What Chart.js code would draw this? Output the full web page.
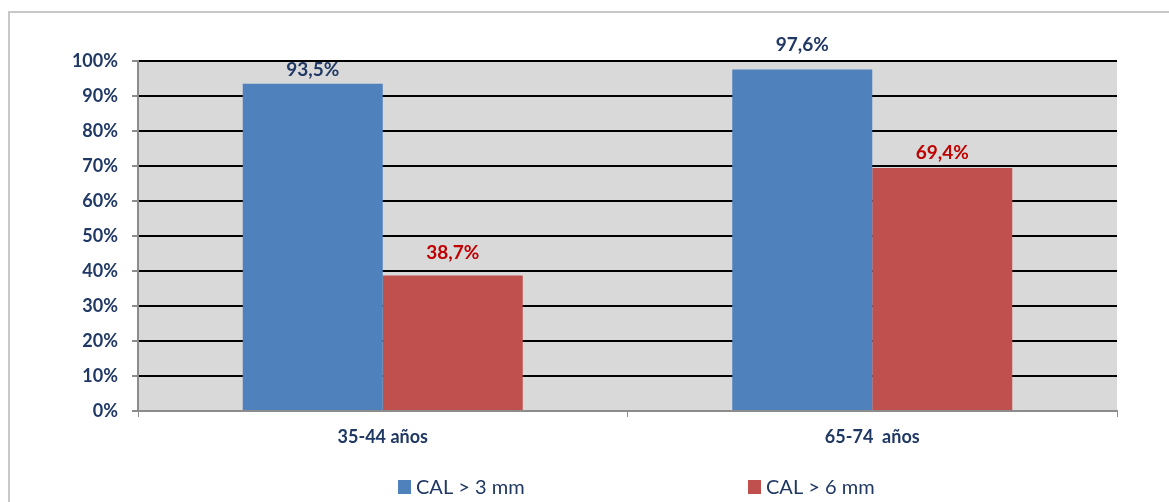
<!DOCTYPE html>
<html>
<head>
<meta charset="utf-8">
<script src="https://cdn.jsdelivr.net/npm/chart.js@4.4.1/dist/chart.umd.min.js"></script>
<style>
  html, body { margin: 0; padding: 0; background: #fff; }
  #wrap { width: 1169px; height: 502px; position: relative; }
</style>
</head>
<body>
<div id="wrap"><canvas id="c" width="1169" height="502"></canvas></div>
<script>
const categories = ['35-44 años', '65-74  años'];
const seriesNames = ['CAL > 3 mm', 'CAL > 6 mm'];
const cal3 = [93.5, 97.6];
const cal6 = [38.7, 69.4];
const valueLabels3 = ['93,5%', '97,6%'];
const valueLabels6 = ['38,7%', '69,4%'];
const yTickLabels = ['0%', '10%', '20%', '30%', '40%', '50%', '60%', '70%', '80%', '90%', '100%'];

const NAVY = '#1F3864';
const LABEL_RED = '#C00000';
const AXIS_GREY = '#8C8C8C';
const FONT = 'Lato, "Open Sans", sans-serif';

const bgPlugin = {
  id: 'bg',
  beforeDraw(chart) {
    const { ctx, chartArea: a } = chart;
    ctx.save();
    ctx.fillStyle = '#D9D9D9';
    ctx.fillRect(a.left, a.top, a.right - a.left, a.bottom - a.top);
    ctx.strokeStyle = '#C8C8C8';
    ctx.lineWidth = 2;
    ctx.strokeRect(9, 12, 1300, 700);
    ctx.restore();
  }
};

const valueLabelPlugin = {
  id: 'valueLabels',
  afterDatasetsDraw(chart, args, opts) {
    const { ctx } = chart;
    ctx.save();
    ctx.font = 'bold 19px ' + FONT;
    ctx.textAlign = 'center';
    ctx.textBaseline = 'middle';
    chart.data.datasets.forEach((ds, di) => {
      const meta = chart.getDatasetMeta(di);
      meta.data.forEach((bar, i) => {
        ctx.fillStyle = opts.colors[di];
        ctx.fillText(opts.texts[di][i], bar.x, bar.y - opts.lift[di][i]);
      });
    });
    ctx.restore();
  }
};

const legendPlugin = {
  id: 'customLegend',
  afterDraw(chart, args, opts) {
    const { ctx } = chart;
    ctx.save();
    ctx.font = '20px ' + FONT;
    ctx.textBaseline = 'middle';
    ctx.textAlign = 'left';
    chart.data.datasets.forEach((ds, di) => {
      const x = opts.x[di];
      ctx.fillStyle = ds.backgroundColor;
      ctx.fillRect(x, opts.y - 7, 13, 14);
      ctx.fillStyle = NAVY;
      ctx.fillText(ds.label, x + 18, opts.y + 1);
    });
    ctx.restore();
  }
};

new Chart(document.getElementById('c'), {
  type: 'bar',
  data: {
    labels: categories,
    datasets: [
      { label: seriesNames[0], data: cal3, backgroundColor: '#4F81BD' },
      { label: seriesNames[1], data: cal6, backgroundColor: '#C0504D' }
    ]
  },
  options: {
    responsive: false,
    animation: false,
    devicePixelRatio: 1,
    layout: { padding: { top: 61, left: 0, right: 52, bottom: 51 } },
    datasets: { bar: { categoryPercentage: 0.572, barPercentage: 1.0 } },
    plugins: {
      legend: { display: false },
      tooltip: { enabled: false },
      valueLabels: {
        colors: [NAVY, LABEL_RED],
        texts: [valueLabels3, valueLabels6],
        lift: [[14, 25], [23, 15]]
      },
      customLegend: { x: [398, 748], y: 487 }
    },
    scales: {
      x: {
        grid: { drawOnChartArea: false, tickLength: 6, tickColor: AXIS_GREY, offset: true },
        border: { color: AXIS_GREY, width: 2 },
        ticks: { color: NAVY, font: { family: FONT, size: 18, weight: 'bold' }, padding: 9 },
        afterFit(scale) { scale.height = 40; }
      },
      y: {
        min: 0, max: 100,
        grid: {
          color: (c) => (c.tick && c.tick.value === 0 ? 'rgba(0,0,0,0)' : '#000'),
          lineWidth: 2,
          tickLength: 6,
          tickColor: AXIS_GREY
        },
        border: { color: AXIS_GREY, width: 2 },
        ticks: {
          stepSize: 10,
          padding: 14,
          color: NAVY,
          font: { family: FONT, size: 18, weight: 'bold' },
          callback: (v, i) => yTickLabels[i]
        },
        afterFit(scale) { scale.width = 138; }
      }
    }
  },
  plugins: [bgPlugin, valueLabelPlugin, legendPlugin]
});
</script>
</body>
</html>
